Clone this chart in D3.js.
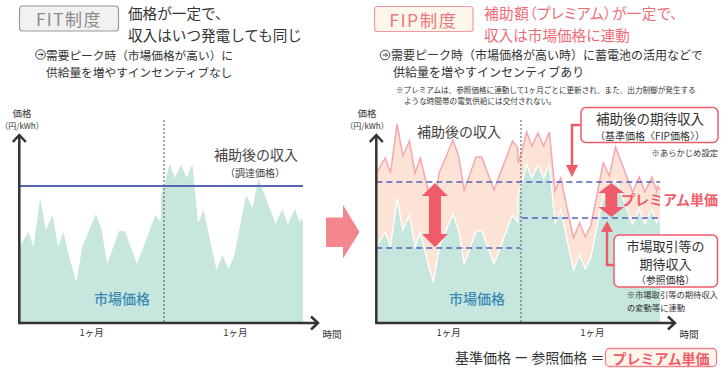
<!DOCTYPE html>
<html>
<head>
<meta charset="utf-8">
<script src="https://cdn.jsdelivr.net/npm/d3@7"></script>
<style>
  body { margin: 0; background: #fff; }
  svg text { font-family: "Noto Sans CJK JP", "Noto Sans", sans-serif; }
  svg text.palt { font-feature-settings: "palt"; letter-spacing: 0.5px; }
</style>
</head>
<body>
<script>
// time (days over two months) and price values
var days = [0, 1.9, 3.0, 4.4, 5.6, 7.0, 8.2, 9.3, 10.9, 12.1, 13.3, 16.2, 17.4, 18.6, 21.1, 22.3, 24.9, 28.8, 29.9,
	30.0, 30.8, 31.8, 32.9, 34.2, 35.4, 36.6, 37.8, 39.0, 41.7, 43.0, 44.2, 45.4, 48.0, 49.3, 50.6, 54.2, 55.6, 56.8, 58.3, 59.3, 59.5, 60];
// 市場価格
var marketPrice = [7.6, 9.1, 7.6, 12.5, 9.3, 10.8, 7.6, 9.1, 6.0, 4.1, 7.6, 10.9, 9.3, 5.9, 9.2, 9.2, 5.9, 10.8, 10.1,
	12.8, 14.0, 15.9, 14.5, 15.8, 14.5, 15.9, 10.0, 11.3, 5.3, 6.8, 5.4, 6.6, 12.8, 11.5, 14.4, 9.9, 11.4, 9.9, 11.4, 10.0, 10.5, 10.1];
// FIP 補助後の収入
var fipIncome = [15.0, 16.5, 15.0, 19.9, 16.7, 18.2, 15.0, 16.5, 13.4, 11.5, 15.0, 18.3, 16.7, 13.3, 16.6, 16.6, 13.3, 18.2, 17.5,
	16.0, 17.2, 19.1, 17.7, 19.0, 17.7, 19.1, 13.2, 14.5, 8.5, 10.0, 8.6, 9.8, 16.0, 14.7, 17.6, 13.1, 14.6, 13.1, 14.6, 13.2, 13.7, 13.3];

var fitPrice = 13.7;          // 調達価格
var basePrice = 14.1;         // 基準価格
var refPrice = [7.5, 10.5];   // 参照価格 (month 1, month 2)
var refSpans = [[0, 30.4], [30.8, 60]];
var arrowDays = [12.4, 49.7];
var monthEdge = 30.6;
var monthTicks = [15.2, 45.6];
var monthLabel = "1ヶ月";

var teal = "#c6e6de", peach = "#fde3d5", pinkLine = "#f7a6b1", red = "#f05b69", blue = "#5262bd", ink = "#333";

var svg = d3.select("body").append("svg")
	.attr("width", 728).attr("height", 374);

var y = d3.scaleLinear().domain([0, 20]).range([323, 123]);
var xFit = d3.scaleLinear().domain([0, 60]).range([19.3, 303]);
var xFip = d3.scaleLinear().domain([0, 60]).range([376.3, 660]);

var market = days.map(function(d, i) { return {t: d, v: marketPrice[i]}; });
var income = days.map(function(d, i) { return {t: d, v: fipIncome[i]}; });

function txt(g, x, yy, s, size, color, anchor, weight) {
	return g.append("text")
		.attr("x", x).attr("y", yy)
		.attr("dominant-baseline", "central")
		.attr("text-anchor", anchor || "start")
		.style("font-size", size + "px")
		.style("font-weight", weight || 400)
		.attr("fill", color || ink)
		.text(s);
}

// draw the axes (with chevron arrow heads), month ticks and labels
function drawAxes(x, labelX) {
	var x0 = x.range()[0], xEnd = x.range()[1] + 15, y0 = y(0), yTop = 135;
	var g = svg.append("g");
	g.append("path")
		.attr("d", "M" + x0 + "," + yTop + "V" + y0 + "H" + xEnd)
		.attr("fill", "none").attr("stroke", ink).attr("stroke-width", 2.5);
	g.append("path")
		.attr("d", "M" + (x0 - 6.5) + "," + (yTop + 7) + "L" + x0 + "," + yTop + "L" + (x0 + 6.5) + "," + (yTop + 7))
		.attr("fill", "none").attr("stroke", ink).attr("stroke-width", 2.5);
	g.append("path")
		.attr("d", "M" + (xEnd - 7) + "," + (y0 - 6.5) + "L" + xEnd + "," + y0 + "L" + (xEnd - 7) + "," + (y0 + 6.5))
		.attr("fill", "none").attr("stroke", ink).attr("stroke-width", 2.5);

	var ax = g.append("g")
		.attr("transform", "translate(0," + y0 + ")")
		.call(d3.axisBottom(x).tickValues(monthTicks).tickFormat(function() { return monthLabel; }).tickSize(0).tickPadding(6));
	ax.select(".domain").remove();
	ax.selectAll("text")
		.style("font-family", "'Noto Sans CJK JP'")
		.style("font-size", "9.5px")
		.attr("fill", ink);
	txt(g, xEnd + 14, 334, "時間", 9.5, ink, "middle");
	txt(g, labelX, 112.5, "価格", 9.5, ink, "middle");
	txt(g, labelX, 125.5, "（円/kWh）", 8, ink, "middle");
}

function monthLine(x) {
	svg.append("line")
		.attr("x1", x(monthEdge)).attr("x2", x(monthEdge))
		.attr("y1", 120).attr("y2", y(0))
		.attr("stroke", "#555").attr("stroke-width", 1).attr("stroke-dasharray", "2,2");
}

function circleArrow(cx, cy) {
	var g = svg.append("g").attr("transform", "translate(" + cx + "," + cy + ")");
	g.append("circle").attr("r", 4.8).attr("fill", "none").attr("stroke", ink).attr("stroke-width", 0.9);
	g.append("path").attr("d", "M-2.5,0H2.5M0.5,-2L2.5,0L0.5,2")
		.attr("fill", "none").attr("stroke", ink).attr("stroke-width", 0.9);
}

// ---------------- FIT ----------------
svg.append("rect")
	.attr("x", 19.5).attr("y", 6).attr("width", 99).attr("height", 25).attr("rx", 3)
	.attr("fill", "#f1f1f1").attr("stroke", "#9a9a9a").attr("stroke-width", 1.2);
txt(svg, 69, 18.5, "FIT制度", 17, "#8a8a8a", "middle").style("letter-spacing", "1.5px");
txt(svg, 128, 12.8, "価格が一定で、", 14.6, ink);
txt(svg, 128, 34.2, "収入はいつ発電しても同じ", 14.6, ink);
circleArrow(40.5, 54.5);
txt(svg, 46, 54.3, "需要ピーク時（市場価格が高い）に", 11.7, ink);
txt(svg, 46, 71.7, "供給量を増やすインセンティブなし", 11.7, ink);

var areaFit = d3.area().x(function(d) { return xFit(d.t); }).y0(y(0)).y1(function(d) { return y(d.v); });
svg.append("path").datum(market).attr("d", areaFit).attr("fill", teal);
monthLine(xFit);
svg.append("line")
	.attr("x1", xFit(0)).attr("x2", xFit(60))
	.attr("y1", y(fitPrice)).attr("y2", y(fitPrice))
	.attr("stroke", "#5865b3").attr("stroke-width", 2);
drawAxes(xFit, 22);
txt(svg, 256, 153.5, "補助後の収入", 14, "#444", "middle");
txt(svg, 255, 172, "（調達価格）", 10, "#444", "middle");
txt(svg, 122, 298, "市場価格", 14, "#3d8bb3", "middle", 500);

// center arrow
svg.append("path")
	.attr("d", "M326,217.5H343V205L359.5,232L343,258.5V247H326Z")
	.attr("fill", "#f4868d");

// ---------------- FIP ----------------
svg.append("rect")
	.attr("x", 374.5).attr("y", 6.5).attr("width", 98.5).attr("height", 25).attr("rx", 3)
	.attr("fill", "#fdf6ea").attr("stroke", "#f29aa2").attr("stroke-width", 1.2);
txt(svg, 423.5, 19, "FIP制度", 17.5, "#ef7680", "middle").style("letter-spacing", "1.5px");
txt(svg, 484, 12.8, "補助額（プレミアム）が一定で、", 14.6, "#f06c78").attr("class", "palt");
txt(svg, 484, 34.2, "収入は市場価格に連動", 14.6, "#f06c78");
circleArrow(385, 55);
txt(svg, 391, 54.3, "需要ピーク時（市場価格が高い時）に蓄電池の活用などで", 12, ink);
txt(svg, 393, 71.7, "供給量を増やすインセンティブあり", 12, ink);
txt(svg, 396, 89.3, "※プレミアムは、参照価格に連動して1ヶ月ごとに更新され、また、出力制御が発生する", 7.6, ink);
txt(svg, 404, 100.3, "ような時間帯の電気供給には交付されない。", 7.6, ink);

var areaFip = d3.area().x(function(d) { return xFip(d.t); }).y0(y(0)).y1(function(d) { return y(d.v); });
var lineFip = d3.line().x(function(d) { return xFip(d.t); }).y(function(d) { return y(d.v); });
svg.append("path").datum(income).attr("d", areaFip).attr("fill", peach);
svg.append("path").datum(income).attr("d", lineFip).attr("fill", "none").attr("stroke", pinkLine).attr("stroke-width", 1.5);
svg.append("path").datum(market).attr("d", areaFip).attr("fill", teal);
svg.append("path").datum(market).attr("d", lineFip).attr("fill", "none").attr("stroke", "#fff").attr("stroke-width", 1.3);
monthLine(xFip);

// base / reference price dashed lines
svg.append("line")
	.attr("x1", xFip(0)).attr("x2", xFip(60))
	.attr("y1", y(basePrice)).attr("y2", y(basePrice))
	.attr("stroke", blue).attr("stroke-width", 1.6).attr("stroke-dasharray", "6,4");
svg.selectAll(".ref").data(refPrice).enter().append("line")
	.attr("class", "ref")
	.attr("x1", function(d, i) { return xFip(refSpans[i][0]); })
	.attr("x2", function(d, i) { return xFip(refSpans[i][1]); })
	.attr("y1", function(d) { return y(d); }).attr("y2", function(d) { return y(d); })
	.attr("stroke", blue).attr("stroke-width", 1.6).attr("stroke-dasharray", "6,4");

// premium double arrows
svg.selectAll(".premium").data(refPrice).enter().append("path")
	.attr("class", "premium")
	.attr("fill", red)
	.attr("d", function(d, i) {
		var cx = xFip(arrowDays[i]), t = y(basePrice) + 1, b = y(d) - 1;
		var hw = 13, sw = 6, hl = i == 0 ? 13 : 10;
		return "M" + cx + "," + t + "L" + (cx + hw) + "," + (t + hl) + "H" + (cx + sw) + "V" + (b - hl) +
			"H" + (cx + hw) + "L" + cx + "," + b + "L" + (cx - hw) + "," + (b - hl) + "H" + (cx - sw) +
			"V" + (t + hl) + "H" + (cx - hw) + "Z";
	});

drawAxes(xFip, 367);
txt(svg, 459, 131, "補助後の収入", 14, "#444", "middle");
txt(svg, 477, 298, "市場価格", 14, "#3d8bb3", "middle", 500);
txt(svg, 718, 199, "プレミアム単価", 14, red, "end", 700);

// callout: 補助後の期待収入
svg.append("path")
	.attr("d", "M581.5,125H572V167")
	.attr("fill", "none").attr("stroke", red).attr("stroke-width", 2.5);
svg.append("path").attr("d", "M566,165H578L572,177Z").attr("fill", red);
svg.append("rect")
	.attr("x", 581).attr("y", 107.5).attr("width", 137).attr("height", 35).attr("rx", 5)
	.attr("fill", "#fff").attr("stroke", red).attr("stroke-width", 1.5);
txt(svg, 650, 118.3, "補助後の期待収入", 13.5, ink, "middle");
txt(svg, 650, 135, "（基準価格〈FIP価格〉）", 10, ink, "middle");
txt(svg, 718, 152, "※あらかじめ設定", 8.3, ink, "end");

// callout: 市場取引等の期待収入
svg.append("path")
	.attr("d", "M614,265H607V230")
	.attr("fill", "none").attr("stroke", red).attr("stroke-width", 2.5);
svg.append("path").attr("d", "M601,232H613L607,221Z").attr("fill", red);
svg.append("rect")
	.attr("x", 614).attr("y", 235).attr("width", 103.5).attr("height", 52).attr("rx", 5)
	.attr("fill", "#fff").attr("stroke", red).attr("stroke-width", 1.5);
txt(svg, 665.5, 245, "市場取引等の", 13, ink, "middle");
txt(svg, 665.5, 263.5, "期待収入", 13, ink, "middle");
txt(svg, 665.5, 279.5, "（参照価格）", 9.8, ink, "middle");
txt(svg, 718, 294, "※市場取引等の期待収入", 8.3, ink, "end");
txt(svg, 627, 306.5, "の変動等に連動", 8.3, ink);

// formula
txt(svg, 455, 357, "基準価格 ー 参照価格 ＝", 14, ink);
svg.append("rect")
	.attr("x", 605.5).attr("y", 348.5).attr("width", 111).attr("height", 18).attr("rx", 4)
	.attr("fill", "#fff5ea").attr("stroke", "#f08590").attr("stroke-width", 1.3);
txt(svg, 661, 357.5, "プレミアム単価", 14, red, "middle", 700);
</script>
</body>
</html>
